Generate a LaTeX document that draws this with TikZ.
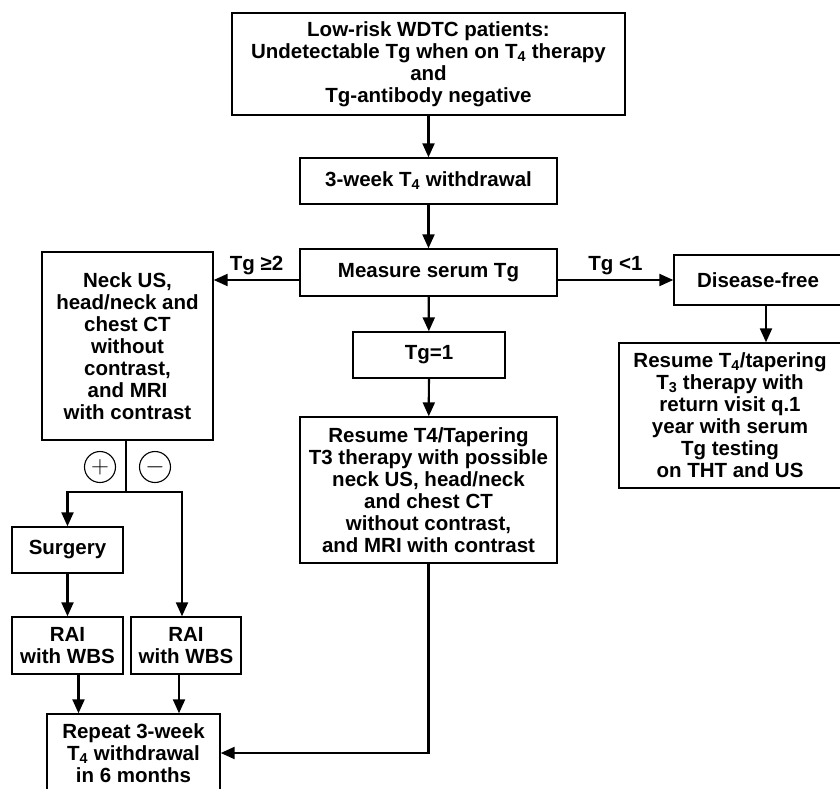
\documentclass[tikz,border=0pt]{standalone}
\usepackage{fontspec}
\setmainfont{Liberation Sans}
\usetikzlibrary{arrows.meta}

\tikzset{
  box/.style={draw, line width=1.4pt, align=center, inner sep=0pt,
    font=\fontsize{20.5}{22}\selectfont\bfseries},
  arr/.style={line width=2.2pt, -{Triangle[length=14pt,width=12pt]}},
  lbl/.style={font=\fontsize{20.5}{22}\selectfont\bfseries, inner sep=4pt},
  sign/.style={draw, circle, line width=1.1pt, minimum size=31pt, inner sep=0pt,
    font=\fontsize{28}{28}\selectfont}
}

\begin{document}
\begin{tikzpicture}[x=1pt,y=-1pt]
  \useasboundingbox (0,0) rectangle (840,789);

  \node[box, minimum width=393pt, minimum height=102pt] (start) at (428.5,64)
    {Low-risk WDTC patients:\\Undetectable Tg when on T\textsubscript{4} therapy\\and\\Tg-antibody negative};
  \node[box, minimum width=257pt, minimum height=46pt] (wdraw) at (428.5,181)
    {3-week T\textsubscript{4} withdrawal};
  \node[box, minimum width=257pt, minimum height=47pt] (meas) at (428.5,272.5)
    {Measure serum Tg};


  \node[box, minimum width=171pt, minimum height=188pt] (neck) at (127.5,346)
    {Neck US,\\head/neck and\\chest CT\\without\\contrast,\\and MRI\\with contrast};
  \node[box, minimum width=168pt, minimum height=50pt] (free) at (758,280)
    {Disease-free};
  \node[box, minimum width=222pt, minimum height=145pt] (resfree) at (730,415.5)
    {Resume T\textsubscript{4}/tapering\\T\textsubscript{3} therapy with\\return visit q.1\\year with serum\\Tg testing\\on THT and US};

  \node[box, minimum width=152pt, minimum height=46pt] (tgone) at (429,355)
    {Tg=1};
  \node[box, minimum width=257pt, minimum height=146pt] (resmid) at (428.5,490)
    {Resume T4/Tapering\\T3 therapy with possible\\neck US, head/neck\\and chest CT\\without contrast,\\and MRI with contrast};


  \node[box, minimum width=111pt, minimum height=46pt] (surg) at (67.5,550) {Surgery};
  \node[box, minimum width=111pt, minimum height=57pt] (raia) at (67.5,645.5) {RAI\\with WBS};
  \node[box, minimum width=110pt, minimum height=57pt] (raib) at (186,645.5) {RAI\\with WBS};
  \node[box, minimum width=173pt, minimum height=78pt] (repeat) at (133.5,753)
    {Repeat 3-week\\T\textsubscript{4} withdrawal\\in 6 months};

  \node[sign] (pos) at (100,467) {$+$};
  \node[sign] (neg) at (155,467) {$-$};


  \draw[arr] (start) -- (wdraw);
  \draw[arr] (wdraw) -- (meas);
  \draw[arr] (meas) -- (tgone);
  \draw[arr] (tgone) -- (resmid);

  \coordinate (lt) at ([yshift=-7.5pt]meas.west);
  \coordinate (rt) at ([yshift=-7.5pt]meas.east);
  \draw[arr] (lt) -- (lt -| neck.east) node[lbl, midway, above] {Tg ≥2};
  \draw[arr] (rt) -- (rt -| free.west) node[lbl, midway, above] {Tg <1};
  \draw[arr] ([xshift=8pt]free.south) -- ([xshift=8pt]free.south |- resfree.north);

  \coordinate (jn) at (126,492);
  \draw[line width=2.2pt] (neck.south -| jn) -- (jn);
  \draw[arr] (jn) -| (surg.north);
  \draw[arr] (jn) -| ([xshift=-4pt]raib.north);
  \draw[arr] (surg) -- (raia);

  \draw[arr] ([xshift=11pt]raia.south) -- ([xshift=11pt]raia.south |- repeat.north);
  \draw[arr] ([xshift=-7pt]raib.south) -- ([xshift=-7pt]raib.south |- repeat.north);
  \draw[arr] (resmid.south) |- (repeat.east);

\end{tikzpicture}
\end{document}
